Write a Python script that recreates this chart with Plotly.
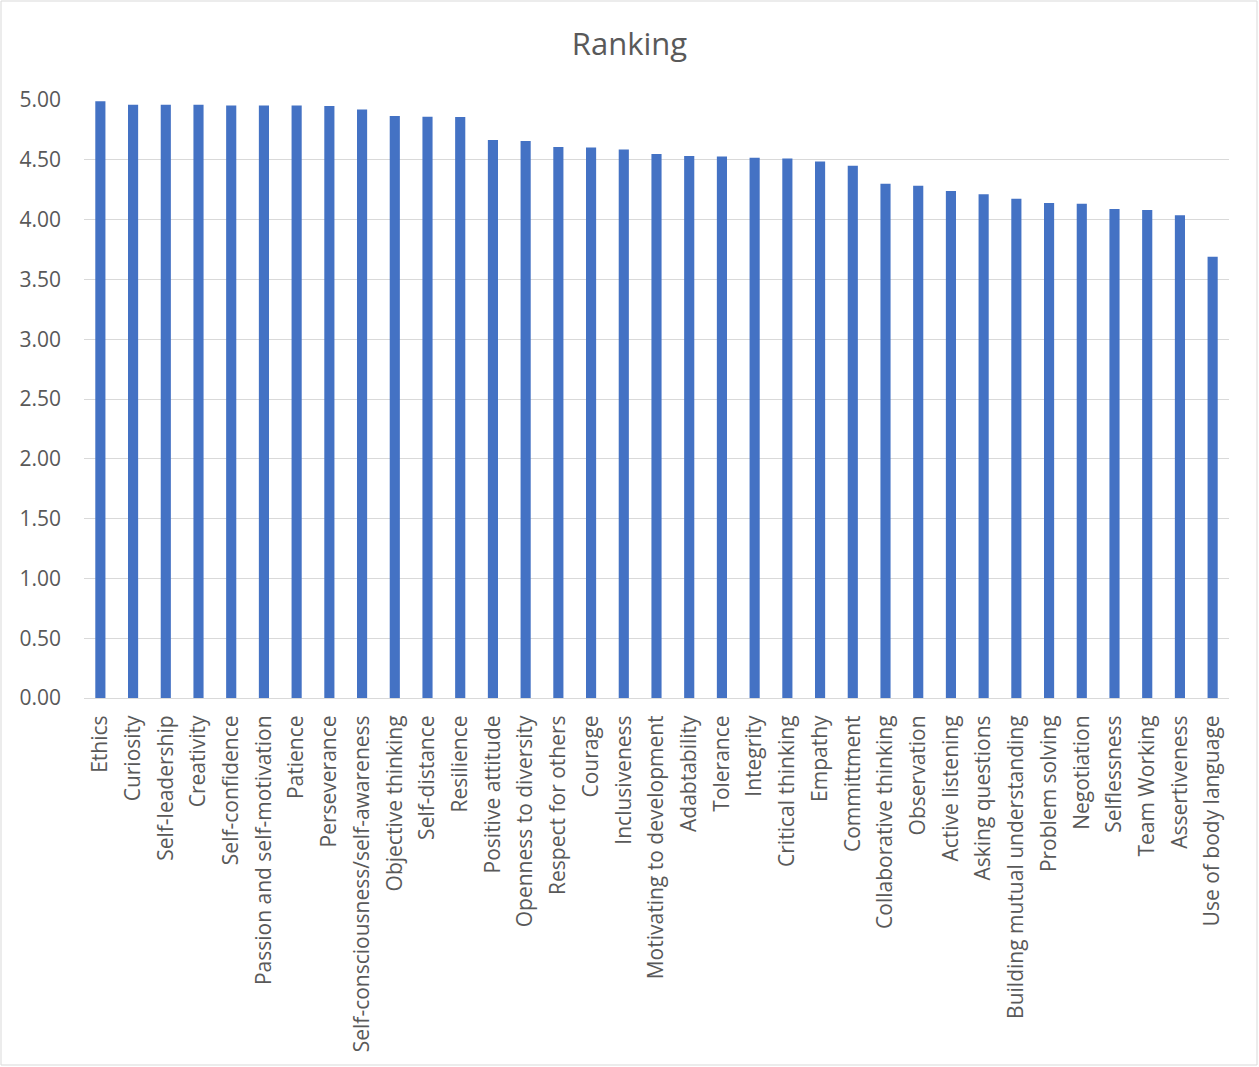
import plotly.graph_objects as go

categories = ["Ethics", "Curiosity", "Self-leadership", "Creativity", "Self-confidence",
              "Passion and self-motivation", "Patience", "Perseverance",
              "Self-consciousness/self-awareness", "Objective thinking", "Self-distance",
              "Resilience", "Positive attitude", "Openness to diversity", "Respect for others",
              "Courage", "Inclusiveness", "Motivating to development", "Adabtability",
              "Tolerance", "Integrity", "Critical thinking", "Empathy", "Committment",
              "Collaborative thinking", "Observation", "Active listening", "Asking questions",
              "Building mutual understanding", "Problem solving", "Negotiation", "Selflessness",
              "Team Working", "Assertiveness", "Use of body language"]
values = [4.99, 4.96, 4.96, 4.96, 4.955, 4.955, 4.955, 4.95, 4.92, 4.867, 4.86, 4.857,
          4.665, 4.658, 4.608, 4.603, 4.586, 4.548, 4.531, 4.528, 4.517, 4.511, 4.486, 4.45,
          4.30, 4.283, 4.239, 4.211, 4.175, 4.139, 4.133, 4.089, 4.081, 4.036, 3.69]
y_ticks = [0, 0.5, 1, 1.5, 2, 2.5, 3, 3.5, 4, 4.5, 5]

W, H = 1259, 1067
L, R, T, B = 84, 30, 100, 369
pw, ph = W - L - R, H - T - B

fig = go.Figure(go.Bar(x=categories, y=values, marker_color="#4472C4",
                       marker_line_width=0))
fig.update_layout(
    width=W, height=H,
    margin=dict(l=L, r=R, t=T, b=B, autoexpand=False),
    paper_bgcolor="white", plot_bgcolor="white",
    bargap=0.69,
    font=dict(family="Open Sans, sans-serif", color="#595959", size=21),
    title=dict(text="Ranking", x=0.5, xanchor="center", y=1 - 44 / H, yanchor="middle",
               font=dict(size=31, color="#595959")),
    showlegend=False,
)
fig.update_yaxes(range=[0, 5], tickvals=y_ticks, tickformat=".2f", showgrid=True,
                 gridcolor="#d9d9d9", gridwidth=1, zeroline=False, showline=False,
                 ticks="", ticklabelstandoff=22, tickfont=dict(size=21))
fig.update_xaxes(tickangle=-90, showline=True, linecolor="#d9d9d9", linewidth=1,
                 ticks="", tickfont=dict(size=21), ticklabelstandoff=8)
fig.add_shape(type="rect", xref="paper", yref="paper",
              x0=(1 - L) / pw, x1=(W - 2 - L) / pw,
              y0=-(H - 2 - T - ph) / ph, y1=1 + (T - 1) / ph,
              line=dict(color="#d9d9d9", width=1), fillcolor="rgba(0,0,0,0)", layer="below")
fig.write_html("out.html")
